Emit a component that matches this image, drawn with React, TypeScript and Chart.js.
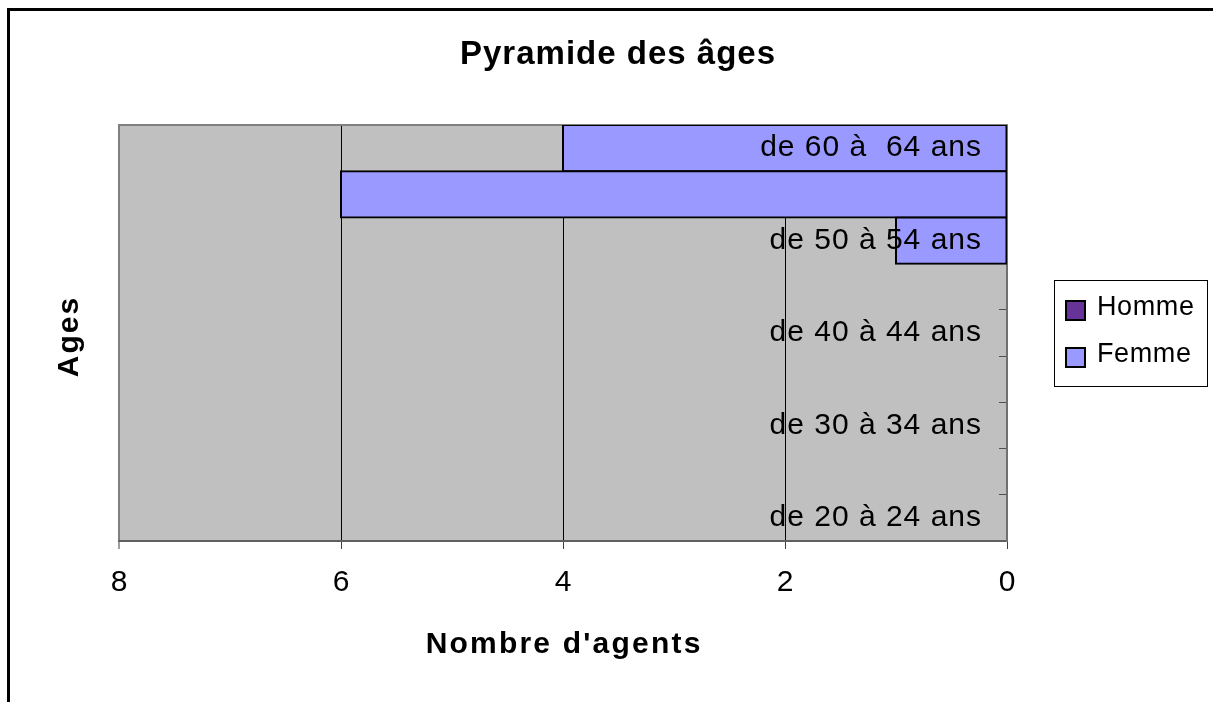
import React, { useEffect, useRef } from 'react';
import { Chart, registerables } from 'chart.js';

Chart.register(...registerables);

const FONT = '"Liberation Sans", Arial, Helvetica, sans-serif';

const chartTitle = 'Pyramide des âges';
const xAxisTitle = "Nombre d'agents";
const yAxisTitle = 'Ages';

const ageGroups = [
  'de 60 à  64 ans',
  'de 55 à 59 ans',
  'de 50 à 54 ans',
  'de 45 à 49 ans',
  'de 40 à 44 ans',
  'de 35 à 39 ans',
  'de 30 à 34 ans',
  'de 25 à 29 ans',
  'de 20 à 24 ans',
];
const hommeValues: (number | null)[] = [null, null, null, null, null, null, null, null, null];
const femmeValues: (number | null)[] = [4, 6, 1, null, null, null, null, null, null];
const xTicks = [0, 2, 4, 6, 8];
const seriesNames = ['Homme', 'Femme'];
const seriesColors = ['#663399', '#9999FF'];

function drawSpaced(
  ctx: CanvasRenderingContext2D,
  text: string,
  x: number,
  y: number,
  spacing: number,
  align: 'left' | 'center' | 'right'
) {
  const chars = Array.from(text);
  const widths = chars.map((c) => ctx.measureText(c).width);
  const total = widths.reduce((a, b) => a + b, 0) + spacing * (chars.length - 1);
  let cx = align === 'center' ? x - total / 2 : align === 'right' ? x - total : x;
  ctx.textAlign = 'left';
  chars.forEach((c, i) => {
    ctx.fillText(c, cx, y);
    cx += widths[i] + spacing;
  });
}

const decor = {
  id: 'decor',
  beforeDraw(chart: any) {
    const { ctx, chartArea: a } = chart;
    ctx.save();
    ctx.fillStyle = '#ffffff';
    ctx.fillRect(0, 0, chart.width, chart.height);
    ctx.fillStyle = '#C0C0C0';
    ctx.fillRect(a.left, a.top, a.right - a.left, a.bottom - a.top);
    ctx.restore();
  },
  beforeDatasetsDraw(chart: any) {
    const { ctx, chartArea: a } = chart;
    ctx.save();
    ctx.fillStyle = '#808080';
    ctx.fillRect(a.left - 1, a.top - 1, a.right - a.left + 2, 2);
    ctx.restore();
  },
  afterDatasetsDraw(chart: any) {
    (chart.ctx as any).letterSpacing = '1px';
  },
  afterDraw(chart: any) {
    const ctx: CanvasRenderingContext2D = chart.ctx;
    (ctx as any).letterSpacing = '0px';
    const a = chart.chartArea;
    ctx.save();
    ctx.fillStyle = '#000';

    // Title
    ctx.font = `bold 33px ${FONT}`;
    ctx.textBaseline = 'middle';
    drawSpaced(ctx, chartTitle, 617.5, 55, 1, 'center');

    // X axis title
    ctx.font = `bold 30px ${FONT}`;
    ctx.textBaseline = 'alphabetic';
    drawSpaced(ctx, xAxisTitle, (a.left + a.right) / 2, 653, 2.2, 'center');

    // Y axis title
    ctx.save();
    ctx.translate(78, 337.5);
    ctx.rotate(-Math.PI / 2);
    ctx.font = `bold 30px ${FONT}`;
    ctx.textBaseline = 'alphabetic';
    drawSpaced(ctx, yAxisTitle, 0, 0, 2, 'center');
    ctx.restore();

    // Legend
    ctx.strokeStyle = '#000';
    ctx.lineWidth = 1;
    ctx.strokeRect(1054.5, 280.5, 153, 106);
    ctx.font = `27px ${FONT}`;
    ctx.textBaseline = 'alphabetic';
    chart.data.datasets.forEach((ds: any, i: number) => {
      const top = 301 + i * 47;
      ctx.fillStyle = ds.backgroundColor;
      ctx.fillRect(1066, top, 19, 19);
      ctx.strokeStyle = '#000';
      ctx.lineWidth = 2;
      ctx.strokeRect(1066, top, 19, 19);
      ctx.fillStyle = '#000';
      drawSpaced(ctx, ds.label, 1097, top + 14, 0.6, 'left');
    });

    // Outer frame
    ctx.fillStyle = '#000';
    ctx.fillRect(7, 8, 3, chart.height);
    ctx.fillRect(7, 8, chart.width, 3);
    ctx.restore();
  },
};

export default function App() {
  const ref = useRef<HTMLCanvasElement>(null);
  useEffect(() => {
    if (!ref.current) return;
    const chart = new Chart(ref.current, {
      type: 'bar',
      data: {
        labels: ageGroups,
        datasets: [
          {
            label: seriesNames[0],
            data: hommeValues,
            backgroundColor: seriesColors[0],
            borderColor: '#000',
            borderWidth: 2,
            borderSkipped: false,
            inflateAmount: 1,
            grouped: false,
            barPercentage: 1,
            categoryPercentage: 1,
          } as any,
          {
            label: seriesNames[1],
            data: femmeValues,
            backgroundColor: seriesColors[1],
            borderColor: '#000',
            borderWidth: 2,
            borderSkipped: false,
            inflateAmount: 1,
            grouped: false,
            barPercentage: 1,
            categoryPercentage: 1,
          } as any,
        ],
      },
      options: {
        indexAxis: 'y',
        responsive: false,
        animation: false,
        layout: { padding: { left: 119, top: 125, right: 0, bottom: 0 } },
        plugins: {
          legend: { display: false },
          title: { display: false },
          tooltip: { enabled: false },
        },
        scales: {
          x: {
            type: 'linear',
            reverse: true,
            min: 0,
            max: 8,
            afterBuildTicks: (s: any) => {
              s.ticks = xTicks.map((v) => ({ value: v }));
            },
            afterFit: (s: any) => {
              s.height = 161;
            },
            ticks: {
              color: '#000',
              padding: 16,
              font: { family: FONT, size: 30 },
              maxRotation: 0,
            },
            grid: {
              color: (c: any) => {
                const v = c.tick ? c.tick.value : 0;
                if (v === 8) return '#808080';
                if (v === 0) return 'rgba(0,0,0,0)';
                return '#000000';
              },
              lineWidth: (c: any) => (c.tick && c.tick.value === 8 ? 2 : 1),
              drawTicks: true,
              tickLength: 8,
              tickColor: '#404040',
              tickWidth: 1,
            },
            border: { display: true, color: '#606060', width: 2 },
          },
          y: {
            type: 'category',
            position: 'right',
            offset: true,
            afterFit: (s: any) => {
              s.width = 206;
            },
            ticks: {
              mirror: true,
              padding: -25,
              z: 1,
              autoSkip: false,
              color: '#000',
              font: { family: FONT, size: 30 },
              callback: (_v: any, i: number) => (i % 2 === 0 ? ageGroups[i] : ''),
            },
            grid: {
              display: true,
              drawOnChartArea: false,
              drawTicks: true,
              tickLength: -8,
              offset: true,
              color: '#505050',
              lineWidth: 1,
            },
            border: { display: true, color: '#707070', width: 2 },
          },
        },
      },
      plugins: [decor],
    } as any);
    return () => chart.destroy();
  }, []);

  return (
    <div style={{ position: 'fixed', left: 0, top: 0, width: 1213, height: 702, background: '#fff' }}>
      <canvas ref={ref} width={1213} height={702} style={{ display: 'block', width: 1213, height: 702 }} />
    </div>
  );
}
